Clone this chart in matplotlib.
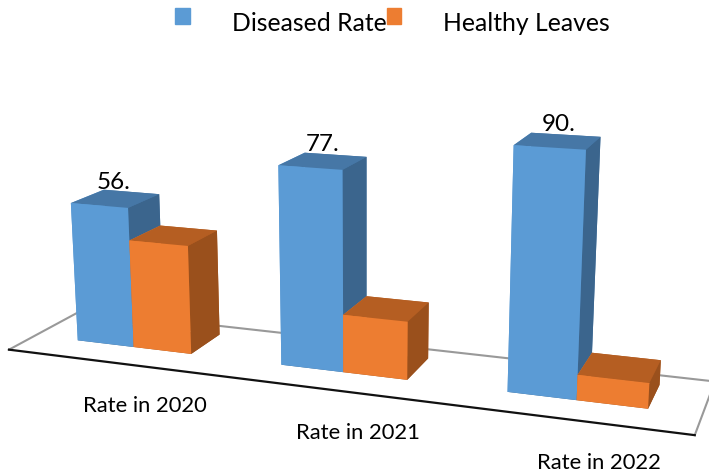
import numpy as np
import matplotlib
matplotlib.use("Agg")
import matplotlib.pyplot as plt
from mpl_toolkits.mplot3d import proj3d

categories = ["Rate in 2020", "Rate in 2021", "Rate in 2022"]
series_names = ["Diseased Rate", "Healthy Leaves"]
diseased = [56.5, 77.5, 90.5]
healthy = [43.5, 22.5, 9.5]
diseased_labels = ["56.", "77.", "90."]

blue = ["#3b658d", "#4677a6", "#5b9bd5", "#4677a6", "#5b9bd5", "#3b658d"]
orange = ["#9a501c", "#b55e22", "#ed7d31", "#b55e22", "#ed7d31", "#9a501c"]

plt.rcParams["font.family"] = ["Lato", "DejaVu Sans"]

W, H = 709, 476
fig = plt.figure(figsize=(W / 100, H / 100), dpi=100)

# camera settings worked out against the reference
size = 273.2
cx, cy = 346.0, 241.5
ax = fig.add_axes([(cx - size / 2) / W, (H - cy - size / 2) / H, size / W, size / H], projection="3d")
ax.set_proj_type("persp", focal_length=1)
ax.view_init(elev=14.17, azim=-69.78, roll=0.16)
ax.set_box_aspect((3.4, 0.718, 1.28), zoom=2.758)
ax.set_xlim(0, 3)
ax.set_ylim(0, 1)
ax.set_zlim(0, 100)
ax.set_axis_off()
ax.computed_zorder = False

gap = 0.22
w = 0.285
y0, y1 = 0.348, 0.812

# floor
ax.plot([0, 0, 3, 3], [0, 1, 1, 0], [0, 0, 0, 0], color="#999999", lw=1.5, zorder=1, clip_on=False)
ax.plot([0, 3], [0, 0], [0, 0], color="#111111", lw=1.6, zorder=1, clip_on=False)

M = ax.get_proj()
for i in range(len(categories)):
    b = ax.bar3d(i + gap, y0, 0, w, y1 - y0, diseased[i], color=blue, shade=False, zsort="max", zorder=2)
    o = ax.bar3d(i + gap + w, y0, 0, w, y1 - y0, healthy[i], color=orange, shade=False, zsort="max", zorder=3)
    b.set_clip_on(False)
    o.set_clip_on(False)
    lx, ly, _ = proj3d.proj_transform(i + gap + w * 0.55, y0 + 0.35 * (y1 - y0), diseased[i] + 3, M)
    ax.annotate(diseased_labels[i], xy=(lx, ly), fontsize=17.5, ha="center", va="bottom", zorder=4, annotation_clip=False)

cat_pos = [(144.5, 406), (358, 433), (599, 463)]
for name, (x, y) in zip(categories, cat_pos):
    fig.text(x / W, 1 - y / H, name, fontsize=15.8, ha="center", va="center")

handles = [plt.Rectangle((0, 0), 1, 1, color=blue[2]), plt.Rectangle((0, 0), 1, 1, color=orange[2])]
leg = fig.legend(handles, series_names, ncol=2, frameon=False, fontsize=17.8, loc="upper left",
                 bbox_to_anchor=(175 / W, 1 - 12 / H), borderaxespad=0, borderpad=0,
                 handlelength=0.6, handleheight=0.6, handletextpad=1.7, columnspacing=0.0)
# swatches sit a little above the text
for h in leg.legend_handles:
    h.set_y(h.get_y() + 4.3)

fig.savefig("out.png", dpi=100)
